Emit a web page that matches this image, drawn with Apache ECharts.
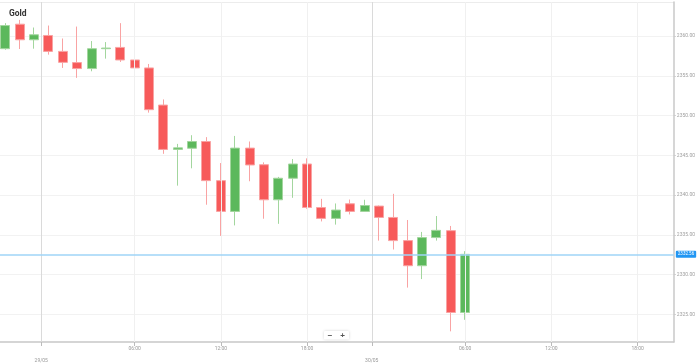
<!DOCTYPE html>
<html><head><meta charset="utf-8">
<script src="https://cdn.jsdelivr.net/npm/echarts@6/dist/echarts.min.js"></script>
<style>html,body{margin:0;padding:0;background:#fff}#c{width:698px;height:363px}</style>
</head><body><div id="c"></div>
<script>
const times = ['28/05 20:00','28/05 21:00','28/05 23:00','29/05 00:00','29/05 01:00','29/05 02:00','29/05 03:00','29/05 04:00','29/05 05:00','29/05 06:00','29/05 07:00','29/05 08:00','29/05 09:00','29/05 10:00','29/05 11:00','29/05 12:00','29/05 13:00','29/05 14:00','29/05 15:00','29/05 16:00','29/05 17:00','29/05 18:00','29/05 19:00','29/05 20:00','29/05 21:00','29/05 23:00','30/05 00:00','30/05 01:00','30/05 02:00','30/05 03:00','30/05 04:00','30/05 05:00','30/05 06:00'];
const opens  = [2358.42,2361.50,2359.54,2360.08,2358.08,2356.67,2355.92,2358.42,2358.58,2357.00,2356.00,2351.33,2345.75,2345.90,2346.75,2341.83,2337.96,2345.92,2343.83,2339.42,2342.13,2343.92,2338.45,2337.08,2338.92,2337.96,2338.63,2337.20,2334.29,2331.13,2334.67,2335.54,2325.25];
const closes = [2361.33,2359.54,2360.17,2358.08,2356.70,2355.92,2358.42,2358.50,2357.00,2356.00,2350.75,2345.75,2345.95,2346.75,2341.83,2337.96,2345.92,2343.80,2339.42,2342.13,2343.92,2338.45,2337.08,2338.13,2337.96,2338.70,2337.20,2334.29,2331.13,2334.67,2335.58,2325.25,2332.56];
const lows   = [2358.29,2358.38,2358.42,2357.67,2356.00,2354.75,2355.58,2357.17,2356.75,2351.29,2350.38,2345.20,2341.20,2343.38,2338.80,2334.88,2336.20,2341.75,2337.04,2336.40,2339.67,2338.30,2336.70,2336.30,2337.58,2337.96,2334.29,2333.17,2328.38,2329.45,2334.29,2322.88,2324.33];
const highs  = [2361.63,2362.04,2361.08,2361.33,2359.70,2361.20,2359.38,2359.25,2361.63,2357.10,2356.50,2352.04,2346.45,2347.54,2347.30,2344.04,2347.45,2346.75,2344.13,2342.30,2344.54,2344.63,2339.54,2338.96,2339.45,2339.42,2338.70,2340.17,2336.88,2335.38,2337.38,2336.13,2332.96];
const xTickSlots  = [2.5, 9, 15, 21, 25.5, 32, 38, 44];
const xTickLabels = ['29/05','06:00','12:00','18:00','30/05','06:00','12:00','18:00'];
const yTickValues = [2325,2330,2335,2340,2345,2350,2355,2360];
const lastPrice = closes[closes.length - 1];

const data = times.map((t, i) => [i, opens[i], closes[i], lows[i], highs[i]]);
const dateSet = new Set(['29/05','30/05']);
const dateSlots = xTickSlots.filter((s, k) => dateSet.has(xTickLabels[k]));
const hourSlots = xTickSlots.filter((s, k) => !dateSet.has(xTickLabels[k]));

const vLines = hourSlots.map(s => ({ xAxis: s, lineStyle: { color: '#f0f0f0', width: 1, type: 'solid' }, label: { show: false } }))
  .concat(dateSlots.map(s => ({ xAxis: s, lineStyle: { color: '#dadada', width: 1, type: 'solid' }, label: { show: false } })));

const chart = echarts.init(document.getElementById('c'));
chart.setOption({
  animation: false,
  textStyle: { fontFamily: 'Roboto' },
  title: { text: 'Gold', left: 9, top: 9, padding: 0, textStyle: { fontSize: 8.5, fontWeight: 'bold', color: '#333', fontFamily: 'Roboto' } },
  grid: { left: 0, right: 24, top: 2, bottom: 19 },
  xAxis: {
    type: 'value', min: -0.369, max: 46.52,
    axisLine: { show: true, onZero: false, lineStyle: { color: '#c8c8c8', width: 1.5 } },
    axisTick: { show: true, customValues: xTickSlots, length: 4, lineStyle: { color: '#bbb', type: 'dashed' } },
    axisLabel: {
      customValues: xTickSlots, margin: 4, fontSize: 5, color: '#999',
      formatter: function (v) {
        const k = xTickSlots.indexOf(v);
        const s = k >= 0 ? xTickLabels[k] : '';
        return dateSet.has(s) ? '{d|' + s + '}' : s;
      },
      rich: { d: { fontSize: 5, color: '#999', padding: [12, 0, 0, 0] } }
    },
    splitLine: { show: false }
  },
  yAxis: {
    type: 'value', position: 'right', min: 2321.54, max: 2364.29, scale: true,
    axisLine: { show: true, onZero: false, lineStyle: { color: '#c8c8c8', width: 1.5 } },
    axisTick: { show: true, customValues: yTickValues, length: 2, lineStyle: { color: '#ccc' } },
    axisLabel: { customValues: yTickValues, margin: 3, fontSize: 5, color: '#a0a0a0', formatter: v => v.toFixed(2) },
    splitLine: { show: true, lineStyle: { color: '#f2f2f2', width: 1 } }
  },
  series: [{
    type: 'line', data: [], silent: true,
    markLine: { silent: true, symbol: ['none', 'none'], data: vLines, animation: false }
  }, {
    type: 'candlestick',
    data: data,
    encode: { x: 0, y: [1, 2, 3, 4] },
    barWidth: 9.5,
    itemStyle: {
      color: '#5cb85c', color0: '#f75a5a',
      borderColor: '#a3d69e', borderColor0: '#f9a3a3', borderWidth: 1
    },
    markLine: {
      silent: true, symbol: ['none', 'none'],
      data: [{ yAxis: lastPrice }],
      lineStyle: { color: '#9fd4f7', type: 'solid', width: 1.5 },
      label: {
        show: true, position: 'end', distance: 2,
        formatter: lastPrice.toFixed(2),
        color: '#fff', backgroundColor: '#2196f3', fontSize: 4.5,
        padding: [1, 2, 1, 2], borderRadius: 1
      }
    }
  }],
  graphic: [{
    type: 'line', z: 0, shape: { x1: 0, y1: 2.5, x2: 674, y2: 2.5 }, style: { stroke: '#ececec', lineWidth: 1 }
  }, {
    type: 'group', left: 324, top: 331,
    children: [
      { type: 'rect', shape: { x: 0, y: 0, width: 25, height: 8.5, r: 1 },
        style: { fill: '#fff', shadowBlur: 3, shadowColor: 'rgba(0,0,0,0.18)' } },
      { type: 'text', x: 6, y: 4.5, style: { text: '−', fontSize: 8, fill: '#555', align: 'center', verticalAlign: 'middle', fontWeight: 'bold' } },
      { type: 'text', x: 18.5, y: 4.5, style: { text: '+', fontSize: 8, fill: '#555', align: 'center', verticalAlign: 'middle', fontWeight: 'bold' } }
    ]
  }]
});
</script></body></html>
